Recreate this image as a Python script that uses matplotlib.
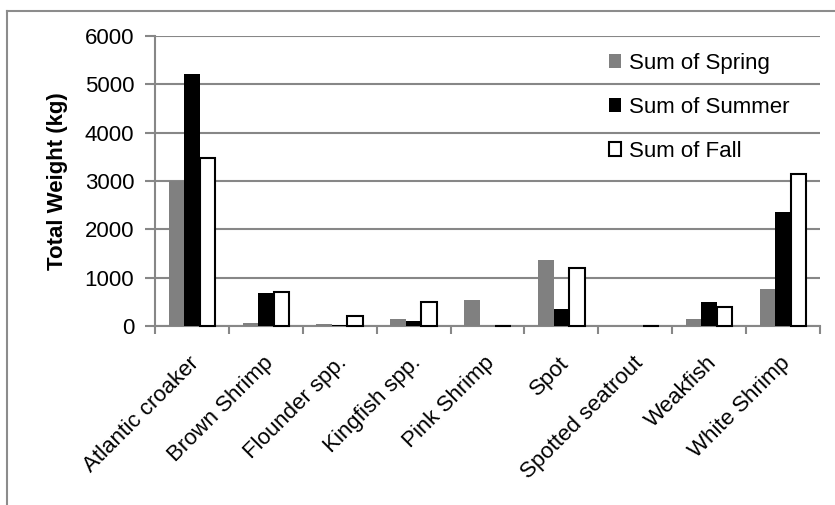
import matplotlib
matplotlib.use('Agg')
import matplotlib.pyplot as plt
import matplotlib.transforms as mtransforms
import numpy as np
from matplotlib.lines import Line2D

plt.rcParams['font.family'] = ['Liberation Sans', 'DejaVu Sans']

# Total catch weight (kg) by species and season
species = ['Atlantic croaker', 'Brown Shrimp', 'Flounder spp.', 'Kingfish spp.',
           'Pink Shrimp', 'Spot', 'Spotted seatrout', 'Weakfish', 'White Shrimp']
spring = [3010, 70, 40, 140, 540, 1365, 0, 140, 760]
summer = [5220, 675, 30, 100, 0, 350, 0, 495, 2360]
fall = [3485, 710, 205, 490, 0, 1205, 0, 385, 3155]

grid_col = '#878787'
fs = 16

fig = plt.figure(figsize=(8.35, 5.05), dpi=100)
ax = fig.add_axes([155 / 835, 1 - 326 / 505, 665 / 835, 290 / 505])

x = np.arange(len(species))
w = 0.21
b1 = ax.bar(x - w, spring, w, color='#808080', label='Sum of Spring', zorder=3)
b2 = ax.bar(x, summer, w, color='black', label='Sum of Summer', zorder=3)
b3 = ax.bar(x + w, fall, w, color='white', edgecolor='black', linewidth=1.5,
            label='Sum of Fall', zorder=3)
for bars in (b1, b2, b3):
    for r in bars:
        r.set_clip_on(False)

ax.set_xlim(-0.5, len(species) - 0.5)
ax.set_ylim(0, 6000)
ax.set_yticks(range(0, 6001, 1000))
ax.yaxis.grid(True, color=grid_col, linewidth=1.5, zorder=0)
ax.set_axisbelow(True)

for s in ['top', 'right']:
    ax.spines[s].set_visible(False)
for s in ['left', 'bottom']:
    ax.spines[s].set_color(grid_col)
    ax.spines[s].set_linewidth(1.5)

# category labels at the centres, tick marks between the groups
ax.set_xticks(x)
ax.set_xticklabels(species, rotation=45, ha='right', rotation_mode='anchor', fontsize=fs)
ax.tick_params(axis='x', which='major', length=0, pad=19)
shift = mtransforms.ScaledTranslation(-3 / 100, 0, fig.dpi_scale_trans)
for lab in ax.get_xticklabels():
    lab.set_transform(lab.get_transform() + shift)
ax.set_xticks(np.arange(-0.5, len(species)), minor=True)
ax.tick_params(axis='x', which='minor', length=6, width=1.5, color=grid_col)
ax.tick_params(axis='y', length=7, width=1.5, color=grid_col, labelsize=fs, pad=8)

ax.set_ylabel('Total Weight (kg)', fontsize=fs, fontweight='bold', labelpad=12)

ax.legend(handles=[b1, b2, b3], loc='upper left', frameon=False, fontsize=fs,
          bbox_to_anchor=(609 / 835, 1 - 53 / 505), bbox_transform=fig.transFigure,
          borderpad=0, borderaxespad=0, handlelength=0.55, handleheight=0.55,
          handletextpad=0.35, labelspacing=1.03)

# outer chart border
fig.add_artist(Line2D([7 / 835, 7 / 835], [0, 1 - 11 / 505], color='#8c8c8c', linewidth=1.5))
fig.add_artist(Line2D([7 / 835, 1], [1 - 11 / 505, 1 - 11 / 505], color='#8c8c8c', linewidth=1.5))

fig.savefig('out.png', dpi=100)
